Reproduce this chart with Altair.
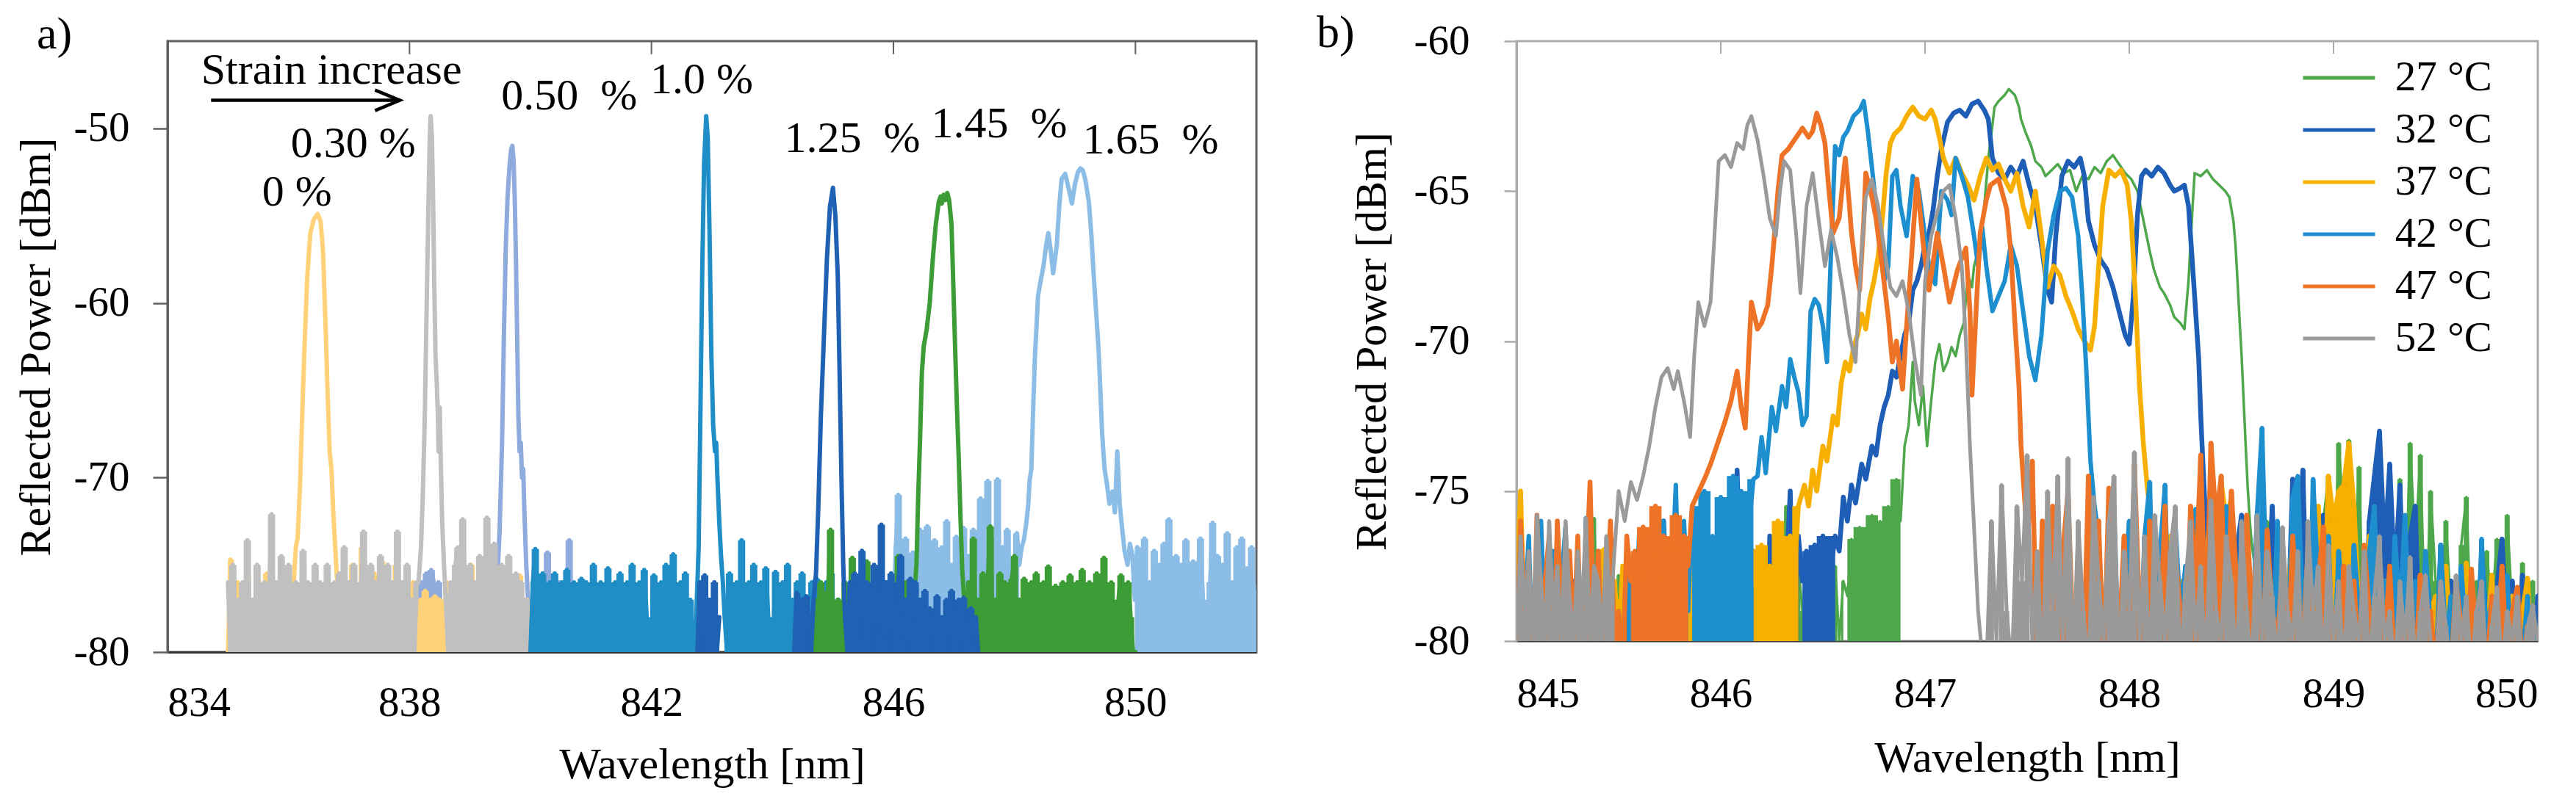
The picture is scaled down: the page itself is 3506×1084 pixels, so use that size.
import numpy as np
import pandas as pd
import altair as alt

alt.data_transformers.disable_max_rows()
FONT = "Liberation Serif"

# ===================== Panel a : strain series =====================
A_NAMES = ["0 %", "0.30 %", "0.50 %", "1.0 %", "1.25 %", "1.45 %", "1.65 %"]
A_COLORS = ["#FFD27A", "#C0C0C0", "#8FAADC", "#1F8DC6", "#1F61B3", "#3C9C35", "#8CBDE6"]

# 0 %
A0_N1 = (835.00, 836.04, [-80,-74.7,-78,-80,-76,-79,-77,-80,-75.5,-78,-80,-77,-79,-76,-80,-78,-75.5,-79,-77,-80,-76,-78,-80,-77,-79,-76.5,-78])
A0_PK = [(836.08,-76.5),(836.12,-74),(836.15,-73.5),(836.19,-70.5),(836.23,-66),(836.27,-62),(836.31,-58.5),(836.36,-56),(836.42,-55.2),(836.48,-54.9),(836.53,-55.3),(836.57,-57),(836.61,-61),(836.65,-65.5),(836.68,-68.5),(836.71,-69.5),(836.74,-72),(836.78,-74.5),(836.82,-77),(836.86,-79)]
A0_N2 = (836.90, 839.98, [-78,-80,-76,-79,-75,-80,-77,-79,-74,-78,
                          -80,-76,-78,-75.5,-80,-77,-74.8,-79,-76,-80,
                          -77,-79,-75,-80,-76,-78,-80,-77,-79,-76,
                          -80,-78,-77,-79,-76.5,-78,-77,-80,-76.8,-78,
                          -77,-80,-78,-76,-79,-80,-77,-78,-80,-76,
                          -79,-77,-80,-75,-78,-80,-76,-79,-77,-80,
                          -76,-78,-80,-75.5,-77,-79,-80,-76,-75.5,-78,
                          -80,-76,-79,-75.6,-78,-80,-77,-80])
# 0.30 %
A30_N1 = (835.00, 838.12, [-76,-80,-75,-79,-77,-80,-76,-78,-73.6,-79,
                           -77,-80,-75,-78,-80,-76,-79,-77,-72.1,-80,
                           -76,-79,-74.5,-80,-77,-75,-79,-80,-76,-78,
                           -80,-74.2,-78,-76,-80,-77,-75,-79,-76,-80,
                           -77,-75,-79,-80,-76,-78,-75.5,-80,-74,-78,
                           -76,-80,-75,-77,-79,-76,-73.1,-80,-77,-75,
                           -79,-76,-80,-74.5,-77,-80,-75,-78,-76,-79,
                           -73.1,-80,-76,-78,-75,-79,-77,-80,-76])
A30_PK = [(838.15,-76),(838.19,-74),(838.22,-71),(838.25,-67),(838.28,-61),(838.31,-55),(838.335,-50.5),(838.35,-49.3),(838.37,-50.5),(838.39,-54),(838.41,-59),(838.43,-63),(838.45,-64.5),(838.47,-66.5),(838.48,-68.5),(838.50,-66),(838.52,-69.5),(838.54,-72.5),(838.57,-75),(838.60,-77)]
A30_N2 = (838.64, 840.00, [-80,-76,-78,-75,-74,-79,-72.4,-77,-80,-75,
                           -78,-76,-80,-74.5,-77,-79,-72.3,-76,-80,-73.8,
                           -77,-80,-75,-79,-76,-74.5,-80,-77,-75.5,-79,
                           -76,-80,-77,-79,-80])
# 0.50 %
A50_N1 = (838.00, 839.40, [-80,-77,-79,-78,-80,-76,-78,-75.5,-77,-75.3,-76,-77.5,-76,-78,-80,-77,-79,-78,-80,-76,-79,-77,-80,-78,-76,-79,-80,-77,-78,-80,-76,-79,-77,-80,-78,-76])
A50_PK = [(839.45,-76),(839.49,-73),(839.53,-68),(839.56,-62),(839.59,-57),(839.62,-54),(839.65,-52.3),(839.68,-51.2),(839.70,-51),(839.72,-51.8),(839.74,-54),(839.76,-57.5),(839.78,-62),(839.80,-66.5),(839.82,-68.5),(839.84,-68),(839.86,-70),(839.88,-69.5),(839.90,-72),(839.93,-75),(839.96,-77)]
A50_N2 = (840.00, 840.88, [-80,-77,-79,-76,-80,-78,-77,-74.3,-79,-80,-77,-78,-76,-80,-79,-77,-73.6,-78,-80,-77,-79,-80,-78])
# 1.0 %
A100_N1 = (840.00, 842.72, [-80,-76,-74.1,-78,-80,-75.5,-77,-79,-76,-80,
                            -75.5,-78,-80,-76,-79,-75.3,-80,-77,-76,-79,
                            -80,-75.8,-78,-76,-80,-77,-75,-79,-80,-76,
                            -78,-80,-75.2,-77,-79,-76,-80,-75.5,-78,-80,
                            -76,-79,-75,-80,-77,-76,-80,-75.3,-78,-79,
                            -80,-75.6,-77,-80,-76,-79,-75,-80,-77,-74.4,
                            -79,-80,-76,-78,-75.5,-80,-77,-79,-80])
A100_PK = [(842.75,-77),(842.78,-74),(842.81,-66),(842.84,-58),(842.87,-52),(842.905,-49.3),(842.93,-50.5),(842.96,-56),(842.99,-63),(843.02,-67),(843.05,-68.5),(843.07,-68),(843.09,-70),(843.12,-72.5),(843.15,-74.5),(843.18,-76)]
A100_N2 = (843.21, 845.17, [-78,-80,-75.5,-77,-79,-76,-80,-73.6,-78,-80,
                            -76,-79,-75,-80,-77,-76,-80,-75.2,-78,-79,
                            -80,-75.4,-77,-80,-76,-79,-75,-80,-77,-78,
                            -76,-80,-75.5,-79,-77,-80,-76,-78,-75.8,-80,
                            -77,-79,-76,-80,-75.5,-78,-80,-77,-79,-80])
# 1.25 %
A125_S1 = (842.76, 843.12, [-80,-76,-79,-75.6,-80,-77,-79,-76,-80,-78])
A125_N1 = (844.36, 844.64, [-80,-76.6,-79,-77,-80,-76.8,-78,-80])
A125_PK = [(844.68,-77),(844.72,-75.5),(844.76,-71.5),(844.80,-66.5),(844.85,-62),(844.90,-57.5),(844.95,-54.5),(845.00,-53.4),(845.04,-55),(845.08,-58.5),(845.11,-64),(845.14,-70),(845.17,-75),(845.20,-78)]
A125_N2 = (845.24, 847.40, [-80,-76,-78,-75.5,-80,-77,-74.2,-79,-76,-80,
                            -77,-75,-80,-78,-72.7,-79,-76,-80,-75.5,-78,
                            -80,-76,-74.5,-79,-77,-80,-75.8,-78,-76,-80,
                            -77,-79,-76.5,-80,-77.5,-78,-80,-76.8,-79,-78,
                            -80,-77,-79,-76.5,-80,-78,-77,-80,-76.9,-79,
                            -80,-77.5,-79,-78,-80])
# 1.45 %
A145_N1 = (844.68, 846.32, [-80,-77,-79,-76,-80,-78,-76.5,-73,-79,-80,
                            -77,-80,-78,-76,-79,-77.5,-74.6,-80,-78,-79,
                            -80,-77,-74.8,-79,-80,-78,-76,-80,-77,-79,
                            -78,-80,-76.5,-79,-77,-74.5,-80,-78,-76,-79,
                            -80,-77])
A145_PK = [(846.34,-77),(846.38,-75),(846.41,-71),(846.44,-67.8),(846.47,-64),(846.50,-62.5),(846.55,-61.5),(846.60,-60),(846.65,-57.5),(846.70,-55.5),(846.75,-54.2),(846.78,-53.9),(846.80,-54.3),(846.83,-53.8),(846.86,-54.1),(846.89,-53.7),(846.92,-54.1),(846.96,-55.5),(846.99,-59),(847.02,-62.6),(847.05,-66),(847.08,-69),(847.11,-72.5),(847.14,-75.5),(847.17,-77)]
A145_N2 = (847.20, 850.00, [-80,-76,-78,-73.5,-80,-77,-79,-75.5,-80,-76,
                            -72.8,-79,-77,-80,-75.5,-78,-76,-80,-77,-75.8,
                            -74.5,-80,-77,-79,-75.8,-78,-80,-76,-79,-75.5,
                            -80,-77,-76,-79,-75.1,-80,-78,-76.2,-79,-80,
                            -76,-78,-80,-75.6,-77,-79,-76,-80,-75.3,-78,
                            -80,-76,-79,-77,-75.5,-80,-78,-74.6,-79,-80,
                            -76,-78,-80,-77,-75.6,-79,-80,-76,-78,-80,
                            -80])
# 1.65 %
A165_N1 = (846.00, 848.08, [-78,-74,-71,-77,-80,-73.5,-76,-79,-74.3,-77,
                            -80,-73,-76,-78,-72.8,-79,-75,-73.6,-80,-76,
                            -74,-78,-72.5,-80,-75,-77,-73.4,-79,-76,-72.9,
                            -78,-74.5,-80,-73,-76,-79,-71.2,-75,-78,-70.2,
                            -76,-73.5,-79,-70.1,-77,-74,-80,-73,-76,-74.8,
                            -78,-73.2,-75])
A165_PK = [(848.12,-74),(848.16,-73.5),(848.20,-72.5),(848.23,-71.5),(848.25,-70.2),(848.28,-69.5),(848.31,-66),(848.34,-63),(848.37,-61),(848.39,-59.6),(848.44,-58.6),(848.48,-57.9),(848.52,-56.8),(848.56,-56),(848.60,-57),(848.64,-58.3),(848.67,-57.5),(848.70,-56.7),(848.74,-54.5),(848.78,-52.9),(848.84,-52.6),(848.90,-53.5),(848.95,-54.3),(849.00,-53.2),(849.05,-52.5),(849.09,-52.3),(849.13,-52.4),(849.17,-52.9),(849.23,-54.2),(849.27,-56),(849.31,-58.4),(849.35,-60.5),(849.39,-62.6),(849.42,-65),(849.45,-67.5),(849.49,-69.5),(849.53,-70.4),(849.57,-71.5),(849.62,-70.8),(849.66,-72),(849.70,-68.5),(849.74,-71.5),(849.78,-72.9),(849.82,-74.2),(849.87,-75),(849.91,-73.8),(849.95,-74.5)]
A165_N2 = (849.99, 852.00, [-77,-74,-79,-75.5,-73.5,-78,-76,-80,-74.2,-77,
                            -75,-79,-73.8,-76,-72.4,-78,-80,-74.5,-77,-75,
                            -79,-73.6,-76,-78,-74.8,-80,-75.5,-73.5,-77,-79,
                            -80,-76,-72.6,-78,-74.5,-80,-75,-77,-73.2,-79,
                            -76,-80,-74,-77,-73.5,-79,-75.2,-78,-74,-76.5,
                            -78])

A_TICKS_X = [834, 838, 842, 846, 850]
A_TICKS_Y = [-80, -70, -60, -50]
A_TOP_TICKS = [838, 842, 846, 850]

ANN_TEXT = ["Strain increase", "0 %", "0.30 %", "0.50\u00a0 %", "1.0 %", "1.25\u00a0 %", "1.45\u00a0 %", "1.65\u00a0 %"]
ANN_X = [836.71, 836.14, 837.07, 840.64, 842.83, 845.32, 847.75, 850.25]
ANN_Y = [-47.43, -54.43, -51.66, -48.9, -48.0, -51.37, -50.49, -51.45]
ARROW_X = [834.72, 837.84, 837.43, 837.84, 837.43]
ARROW_Y = [-48.39, -48.39, -47.80, -48.39, -48.98]
ARROW_SEG = [0, 0, 1, 1, 1]

# ===================== Panel b : temperature series =====================
B_NAMES = ["27 °C", "32 °C", "37 °C", "42 °C", "47 °C", "52 °C"]
B_COLORS = ["#4EA74A", "#1F5EB6", "#F7B000", "#1D8FCF", "#EE7326", "#9A9A9A"]
B_WIDTHS = [3.5, 6.5, 6.5, 6.0, 6.5, 5.0]

# 27 C
B27_N1 = (845.00, 846.60, [-81,-78.5,-80,-77.6,-81,-79,-78,-81,-79.5,-78,
                           -81,-79,-77.8,-81,-80,-78.5,-81,-79,-77,-75.9,
                           -80,-81,-78,-79.5,-81,-77.8,-80,-81,-78.6,-79,
                           -81,-78,-80,-77.5,-81,-79,-78.4,-81,-80,-77.8,
                           -81,-79,-77.6,-80,-81,-78.5,-79,-81,-77.7,-80,
                           -76.2,-81,-78,-79.5,-81,-77.5,-80,-81,-78.2,-79,
                           -81,-77.8,-80,-78,-81,-79,-75.5,-80,-81,-77.5,
                           -79,-81,-78,-80,-77,-81,-78.5,-79,-77.5,-80,
                           -78])
B27_N2 = (846.62, 846.88, [-78.5,-76.6,-78,-76.2,-78.5,-77,-75.8,-78,-76,-78.5,-75.5,-77.5,-74.6,-76])
B27_PK = [(846.90,-73.5),(846.92,-72.8),(846.94,-70.7),(846.95,-72),(846.97,-72.8),(846.99,-71.5),(847.01,-73.5),(847.03,-72),(847.05,-70.7),(847.07,-70.1),(847.09,-71),(847.11,-70.7),(847.13,-70.2),(847.15,-70.5),(847.17,-69.8),(847.19,-69.4),(847.21,-67.8),(847.23,-68.2),(847.24,-67.5),(847.26,-67),(847.27,-66.7),(847.29,-65.5),(847.31,-63.9),(847.33,-62.8),(847.34,-62.2),(847.36,-62),(847.39,-61.8),(847.41,-61.6),(847.44,-61.8),(847.46,-62.2),(847.47,-62.6),(847.49,-63),(847.52,-63.5),(847.54,-64),(847.57,-64.2),(847.59,-64.5),(847.62,-64.3),(847.65,-64.1),(847.68,-64.4),(847.71,-64.3),(847.74,-65),(847.77,-64.5),(847.80,-64.6),(847.83,-64.2),(847.86,-64.4),(847.89,-64),(847.92,-63.8),(847.95,-64.1),(847.98,-64.4),(848.01,-64.6),(848.04,-65),(848.07,-66),(848.10,-67),(848.12,-67.6),(848.15,-68.2),(848.17,-68.4),(848.20,-68.8),(848.22,-69.2),(848.25,-69.4),(848.27,-69.6),(848.29,-68),(848.31,-65.5),(848.32,-64.4),(848.35,-64.5),(848.38,-64.3),(848.41,-64.6),(848.44,-64.8),(848.47,-65),(848.49,-65.2),(848.51,-66),(848.52,-66.8),(848.53,-68),(848.54,-69.3),(848.55,-70.5),(848.56,-72),(848.57,-73.5),(848.58,-74.9),(848.59,-76),(848.60,-76.8)]
B27_N3 = (848.625, 850.00, [-78,-81,-76,-79.5,-81,-77,-80,-78.5,-81,-76.5,
                            -80,-78,-81,-76,-74.5,-79,-73.4,-76,-73.3,-78,
                            -74.2,-81,-77,-79,-80,-76.5,-81,-77.8,-74.6,-79,
                            -73.4,-77,-73.8,-80,-75,-78,-81,-76,-79,-81,
                            -76.8,-75.2,-80,-78,-81,-77,-79,-76.6,-81,-75.8,
                            -79,-81,-77.4,-80,-78,-81])
# 32 C
B32_N1a = (845.00, 846.38, [-81,-78,-80,-77.8,-81,-79,-78.2,-81,-80,-78,
                            -81,-79,-77.6,-81,-78,-80,-81,-78.5,-79,-81,
                            -78,-80,-81,-77.5,-79,-81,-78,-80,-77.8,-81,
                            -79,-81,-77.5,-80,-78,-81,-76,-79,-81,-78,
                            -80,-77,-81,-78.5,-76.8,-80,-81,-77.5,-79,-81,
                            -77,-80,-78,-81,-74.3,-79,-76.8,-81,-77,-80,
                            -78,-81,-76.5,-79,-77,-81,-78,-75,-80,-76.5])
B32_N1b = (846.40, 846.56, [-78,-77,-78.5,-76.8,-78.5,-76.5,-78,-77.5,-76.5])
B32_PK = [(846.58,-77),(846.60,-75.2),(846.62,-76),(846.64,-74.8),(846.66,-75.4),(846.69,-74.1),(846.71,-74.6),(846.74,-73.5),(846.76,-73.8),(846.78,-72.8),(846.80,-72.2),(846.82,-71.8),(846.84,-71),(846.86,-71.2),(846.88,-70.5),(846.90,-69.8),(846.92,-69.4),(846.94,-68.3),(846.96,-68),(846.98,-67.5),(847.00,-66.8),(847.02,-66.4),(847.04,-65.6),(847.06,-64.5),(847.08,-63.6),(847.11,-62.7),(847.14,-62.4),(847.17,-62.3),(847.20,-62.5),(847.23,-62.1),(847.26,-62),(847.29,-62.3),(847.31,-62.6),(847.33,-63.9),(847.36,-64.4),(847.39,-64.6),(847.42,-64.2),(847.45,-64.5),(847.48,-64),(847.51,-64.8),(847.54,-65.5),(847.57,-66.8),(847.60,-68.3),(847.62,-68.7),(847.64,-66.5),(847.67,-64.5),(847.70,-64),(847.73,-64.2),(847.76,-63.9),(847.78,-64.5),(847.80,-66),(847.83,-66.8),(847.86,-67.3),(847.89,-67.6),(847.92,-68.2),(847.95,-69),(847.98,-69.8),(848.00,-70.1),(848.02,-68.5),(848.04,-65.8),(848.06,-64.5),(848.08,-64.3),(848.11,-64.5),(848.14,-64.2),(848.17,-64.4),(848.20,-64.8),(848.22,-65),(848.25,-64.9),(848.27,-64.8),(848.29,-65.5),(848.30,-66.5),(848.32,-68.5),(848.34,-70.6),(848.35,-72.5),(848.36,-74),(848.37,-75.4),(848.38,-76.5)]
B32_N2 = (848.40, 850.00, [-78,-81,-76.5,-79,-81,-77,-75.8,-80,-78,-81,
                           -76.8,-79,-75.5,-81,-77,-80,-74.6,-78,-74.3,-81,
                           -77,-80,-75.8,-81,-78,-76.5,-80,-81,-77.2,-79,
                           -81,-76,-74.5,-73,-77,-74.1,-78,-74.8,-80,-76.5,
                           -75.5,-81,-77.5,-79,-81,-76.8,-80,-78,-81,-77.6,
                           -80,-78.5,-81,-77,-79.5,-81,-78.2,-76.6,-80,-78,
                           -81,-77.8,-79.5,-81,-78.5])
# 37 C
B37_N1a = (845.00, 846.14, [-78,-75,-80,-77.5,-81,-78,-79,-81,-77,-80,
                            -78.5,-81,-77.8,-80,-79,-81,-78,-80,-77.6,-81,
                            -79,-77,-76.9,-81,-78,-80,-77.5,-81,-79,-78,
                            -81,-77.8,-80,-78.5,-81,-77,-79,-81,-78,-80,
                            -77.5,-81,-79,-77,-80,-78.5,-81,-77.2,-79,-81,
                            -78,-76,-80,-77.5,-75.6,-81,-76.5,-79])
B37_N1b = (846.16, 846.38, [-77,-78.5,-76.8,-78,-77.5,-78.5,-76,-78,-78.5,-76.5,-77.8,-75.5])
B37_PK = [(846.41,-74.8),(846.43,-75.5),(846.45,-74.3),(846.47,-75),(846.50,-73.5),(846.52,-74),(846.55,-72.5),(846.57,-72.8),(846.59,-71.4),(846.61,-70.7),(846.63,-71),(846.65,-70.2),(846.67,-69.8),(846.69,-69.1),(846.71,-69.6),(846.73,-68.6),(846.75,-68),(846.77,-67.2),(846.79,-66),(846.81,-64.4),(846.83,-63.4),(846.85,-63.1),(846.88,-62.9),(846.91,-62.5),(846.94,-62.2),(846.97,-62.5),(847.00,-62.6),(847.03,-62.3),(847.05,-62.6),(847.07,-63.2),(847.09,-63.9),(847.12,-64.4),(847.15,-63.9),(847.18,-64.4),(847.21,-64.8),(847.24,-65.3),(847.27,-64.5),(847.30,-63.9),(847.33,-64.3),(847.36,-64.1),(847.39,-64.6),(847.42,-65),(847.45,-64.4),(847.48,-65.5),(847.51,-66.2),(847.54,-65),(847.57,-66.5),(847.60,-68.2),(847.63,-67.5),(847.66,-67.8),(847.69,-68.5),(847.72,-69),(847.75,-69.6),(847.78,-70),(847.81,-70.3),(847.83,-69.5),(847.85,-67.5),(847.87,-65.5),(847.90,-64.3),(847.93,-64.5),(847.96,-64.3),(847.99,-64.8),(848.01,-66),(848.03,-68.5),(848.05,-71.5),(848.07,-73.5),(848.09,-75)]
B37_N2 = (848.10, 850.00, [-75.5,-81,-77,-79,-76.5,-81,-78,-80,-76,-79,
                           -81,-77.5,-75.5,-80,-74.7,-76,-75.2,-79,-81,-77,
                           -80,-78,-81,-76.8,-79,-77.5,-81,-78.5,-76.5,-80,
                           -78,-81,-77,-75.5,-80,-74.5,-76,-75,-74.8,-73.4,
                           -75.5,-79,-81,-76.5,-77.2,-80,-78,-81,-77.5,-79,
                           -81,-78,-80,-77.8,-81,-79,-78.5,-81,-77.5,-80,
                           -78.6,-81,-77.4,-79,-81,-78,-80,-77.8,-81,-79,
                           -80,-78.5,-81,-79,-77.9,-81,-80])
# 42 C
B42_N1a = (845.00, 845.84, [-80,-77,-79,-76.5,-81,-78,-76,-80,-79,-77,
                            -81,-78,-76.2,-80,-79,-77.5,-81,-75.9,-79,-80,
                            -77,-81,-78,-76.5,-80,-79,-81,-77,-79.5,-80,
                            -76.5,-81,-78,-79,-77,-81,-76,-80,-78,-74.8,
                            -80,-76,-79])
B42_N1b = (845.86, 846.16, [-75.5,-78,-77,-75,-78.5,-76.5,-78,-75.2,-78.5,-77,-74.5,-78,-75,-78.5,-76,-74.6])
B42_PK = [(846.18,-74.5),(846.20,-73.2),(846.22,-74.4),(846.25,-72.2),(846.27,-73),(846.30,-71.5),(846.32,-72.2),(846.34,-70.6),(846.36,-71.2),(846.38,-71.7),(846.40,-72.8),(846.42,-72.5),(846.44,-69),(846.46,-68.6),(846.48,-68.8),(846.50,-69.5),(846.52,-70.7),(846.54,-67),(846.56,-63.5),(846.58,-63.8),(846.60,-63.2),(846.62,-63),(846.65,-62.5),(846.68,-62.3),(846.70,-62),(846.72,-63),(846.74,-64.2),(846.76,-65.5),(846.78,-66.3),(846.80,-68),(846.82,-67.5),(846.84,-64.5),(846.86,-64.3),(846.88,-65.5),(846.91,-66.5),(846.94,-64.5),(846.97,-65),(846.99,-66),(847.02,-67.5),(847.05,-68.1),(847.08,-65),(847.11,-65.3),(847.13,-65.8),(847.15,-63.9),(847.18,-64.5),(847.21,-65.2),(847.24,-66.5),(847.26,-67.5),(847.28,-66.2),(847.30,-67.5),(847.33,-69),(847.36,-68.5),(847.39,-68),(847.42,-66.8),(847.45,-67.5),(847.48,-69),(847.51,-70.5),(847.54,-71.3),(847.57,-69.8),(847.60,-67),(847.63,-65.8),(847.66,-65),(847.69,-64.9),(847.72,-65.2),(847.75,-66.5),(847.77,-68.5),(847.79,-71),(847.81,-74),(847.83,-75.5),(847.85,-76.5)]
B42_N2 = (847.875, 850.00, [-80,-77,-75.5,-81,-78,-76,-79,-81,-76.5,-74.7,
                            -80,-77,-74.8,-81,-76,-79,-77.5,-81,-75.6,-78,
                            -80,-76.5,-81,-77,-75.5,-79,-81,-76,-78,-80,
                            -75.8,-72.9,-79,-81,-76,-78,-80,-75.2,-74.5,-79,
                            -81,-74.6,-78,-80,-76.5,-81,-77,-79,-81,-76.8,
                            -79,-81,-77,-75.5,-80,-78,-81,-76.5,-79,-75.8,
                            -80,-78,-81,-77,-79.5,-81,-76.8,-80,-78.5,-81,
                            -77.5,-80,-79,-81,-76.6,-80,-78.5,-81,-79,-77.8,
                            -81,-79,-80.5,-78.5,-81,-79.5])
# 47 C
B47_N1a = (845.00, 845.54, [-81,-76,-79,-77.5,-81,-75.8,-80,-78,-76.5,-81,
                            -76,-79,-81,-77,-80,-76.5,-81,-78,-74.7,-80,
                            -77,-81,-78.5,-76,-80,-79,-81,-76.5])
B47_N1b = (845.56, 845.84, [-78,-77,-78.5,-76.2,-78,-77,-75.5,-78.5,-76.5,-78,-77,-75.8,-78,-76.5,-77.5])
B47_PK = [(845.86,-75.5),(845.88,-75.2),(845.92,-74.6),(845.95,-74.1),(845.98,-73.5),(846.02,-72.7),(846.05,-72),(846.08,-71.0),(846.10,-72.2),(846.12,-72.9),(846.14,-70),(846.15,-68.7),(846.18,-69.6),(846.20,-69.4),(846.23,-68.8),(846.25,-67.5),(846.26,-66.7),(846.28,-65),(846.30,-63.8),(846.33,-63.6),(846.35,-63.4),(846.38,-63.1),(846.40,-62.9),(846.43,-63.2),(846.45,-63.0),(846.47,-62.4),(846.49,-62.8),(846.51,-63.4),(846.53,-65),(846.55,-66.4),(846.58,-65.9),(846.60,-64.5),(846.61,-63.9),(846.63,-65.5),(846.64,-66.4),(846.66,-67.5),(846.68,-68.3),(846.70,-66),(846.71,-64.4),(846.74,-65.2),(846.76,-65.9),(846.79,-67.5),(846.82,-69.2),(846.84,-70.7),(846.86,-70),(846.89,-71.6),(846.91,-69.5),(846.93,-67.6),(846.96,-64.6),(846.99,-66.7),(847.02,-68.3),(847.06,-66.4),(847.09,-67.5),(847.12,-68.7),(847.16,-67.6),(847.20,-66.9),(847.22,-69),(847.23,-71.8),(847.25,-69),(847.27,-66.4),(847.30,-65.3),(847.32,-64.8),(847.36,-64.6),(847.40,-65.6),(847.42,-67),(847.44,-69.4),(847.46,-71.5),(847.47,-73.5),(847.49,-75.5),(847.50,-77)]
B47_N2 = (847.525, 850.00, [-74,-81,-76,-79,-75.5,-81,-77,-75,-80,-78,
                            -81,-74.5,-79,-76,-81,-74.9,-78,-80,-76.5,-81,
                            -74.1,-79,-81,-76,-78,-80,-75.5,-81,-77,-79,
                            -81,-75.5,-78,-73.8,-80,-73.4,-76,-74.5,-81,-75,
                            -78,-81,-75.8,-79,-77,-81,-76.3,-79,-80,-77.5,
                            -81,-76.5,-79,-80,-77,-81,-78,-76.2,-80,-79,
                            -81,-77.5,-80,-78,-81,-76.8,-79,-81,-78.5,-80,
                            -77.5,-81,-79,-80,-78,-81,-77.8,-80,-79,-81,
                            -78.2,-80,-81,-78,-79.5,-81,-77.6,-80,-79,-81,
                            -78.5,-80,-77.5,-81,-79,-78.2,-81,-79.5,-80,-81])
# 52 C
B52_N1 = (845.00, 845.48, [-80,-76.5,-79,-77,-80,-75.8,-78,-80,-76,-79,-77.5,-80,-76,-78.5,-80,-77,-79,-75.9,-80,-77.5,-78,-80,-76.5,-79,-77])
B52_PK = [(845.50,-75),(845.53,-76),(845.56,-74.7),(845.59,-75.3),(845.62,-74.5),(845.65,-73.5),(845.68,-72.2),(845.71,-71.2),(845.74,-70.9),(845.77,-71.6),(845.79,-71),(845.82,-72),(845.85,-73.2),(845.87,-70.5),(845.89,-68.7),(845.92,-69.5),(845.95,-68.7),(845.97,-66.4),(845.99,-64),(846.02,-63.8),(846.05,-64.2),(846.08,-63.4),(846.11,-63.6),(846.13,-62.8),(846.15,-62.5),(846.18,-63.3),(846.21,-64.5),(846.24,-65.9),(846.27,-66.5),(846.29,-65),(846.31,-64),(846.34,-64.3),(846.37,-66.5),(846.39,-68.4),(846.42,-65.5),(846.45,-64.4),(846.48,-66),(846.51,-67.5),(846.54,-66.3),(846.57,-67.2),(846.60,-68.4),(846.63,-69.8),(846.66,-70.7),(846.69,-67),(846.71,-65.2),(846.74,-64.6),(846.77,-65.5),(846.80,-66.9),(846.83,-68.2),(846.86,-68.5),(846.89,-68),(846.92,-69),(846.95,-70.6),(846.98,-71.8),(847.00,-68),(847.03,-66.5),(847.06,-65.7),(847.09,-65),(847.12,-64.8),(847.15,-65.9),(847.18,-67.5),(847.20,-70),(847.22,-73.5),(847.24,-76.2),(847.26,-79),(847.28,-80.5)]
B52_N2 = (847.30, 850.00, [-81,-76,-80,-74.8,-79,-81,-75.5,-78,-73.8,-80,
                           -77,-81,-75,-79,-74.5,-80,-73.9,-81,-76,-79,
                           -81,-75.2,-78,-80,-76,-74.5,-81,-77,-79,-73.7,
                           -80,-76.5,-81,-75.8,-78,-80,-77,-75.5,-81,-78,
                           -76,-80,-77.5,-81,-75.3,-79,-80,-76.5,-78,-81,
                           -76,-79,-81,-75.8,-80,-77,-78.5,-81,-76.2,-79,
                           -80,-77,-81,-76,-79,-77.5,-81,-76.8,-80,-78,
                           -81,-77.5,-79,-80,-77,-81,-78.5,-76.5,-80,-79,
                           -81,-78,-80,-77.2,-81,-79,-77.8,-80,-81,-78,
                           -79.5,-81,-77.8,-80,-78.5,-81,-79,-78,-81,-79.5,
                           -78.2,-81,-79,-80,-78.5,-81,-79.5,-78.8,-80])

B_TICKS_X = [845, 846, 847, 848, 849, 850]
B_TICKS_Y = [-80, -75, -70, -65, -60]
B_TOP_TICKS = [846, 847, 848, 849]

# how a noise-floor part is drawn under its trace: 0 trace only,
# 1 dense band (upper edge = local max of 3 samples), 2 one bar per sample
NONE, BAND, BARS = 0, 1, 2


# ===================== helpers =====================
def expand(part):
    if isinstance(part, tuple):
        x0, x1, vals = part
        return list(zip(np.linspace(x0, x1, len(vals)), vals))
    return list(part)


def frames(segments, name):
    """segments: list of segments; each segment is a list of (part, fill_mode)."""
    lrows, arows = [], []
    for s, parts in enumerate(segments):
        i = 0
        for k, (part, mode) in enumerate(parts):
            pts = expand(part)
            for x, y in pts:
                lrows.append({"x": float(x), "y": float(y), "seg": s, "ord": i, "T": name})
                i += 1
            if mode:
                ys = [p[1] for p in pts]
                for j, (x, y) in enumerate(pts):
                    top = max(ys[max(0, j - 1): j + 2]) if mode == BAND else y
                    arows.append({"x": float(x), "top": float(top), "bot": -80.0,
                                  "seg": f"{s}_{k}"})
    return pd.DataFrame(lrows), pd.DataFrame(arows)


def make_y(field, domain, axis):
    return alt.Y(field, scale=alt.Scale(domain=domain, nice=False, zero=False), axis=axis, stack=None)


# ===================== panel a =====================
WA, HA = 1482, 832
XA = alt.X("x:Q", scale=alt.Scale(domain=[834, 852], nice=False, zero=False),
           axis=alt.Axis(values=A_TICKS_X, ticks=False, tickSize=0, labelPadding=41,
                         labelFont=FONT, labelFontSize=57, labelColor="black",
                         domainColor="#333333", domainWidth=3, grid=False,
                         title="Wavelength [nm]", titleFont=FONT, titleFontSize=60,
                         titleFontWeight="normal", titleColor="black",
                         titleX=WA / 2, titleY=153, titleBaseline="middle", titleAlign="center"))
AXIS_YA = alt.Axis(values=A_TICKS_Y, labelExpr="'' + datum.value", tickSize=20,
                   tickColor="#5F5F5F", tickWidth=2.5, labelPadding=32,
                   labelFont=FONT, labelFontSize=57, labelColor="black",
                   domainColor="#5F5F5F", domainWidth=3, grid=False,
                   title="Reflected Power [dBm]", titleFont=FONT, titleFontSize=60,
                   titleFontWeight="normal", titleColor="black", titleAngle=270,
                   titleX=-179, titleY=HA / 2, titleBaseline="middle", titleAlign="center")
YA = make_y("y:Q", [-80, -45], AXIS_YA)
YA_TOP = make_y("top:Q", [-80, -45], AXIS_YA)

a_curves = [
    ("1.65 %", [[(A165_N1, BAND), (A165_PK, NONE), (A165_N2, BAND)]]),
    ("0.50 %", [[(A50_N1, BAND), (A50_PK, NONE), (A50_N2, BAND)]]),
    ("0 %", [[(A0_N1, BAND), (A0_PK, NONE), (A0_N2, BAND)]]),
    ("0.30 %", [[(A30_N1, BAND), (A30_PK, NONE), (A30_N2, BAND)]]),
    ("1.0 %", [[(A100_N1, BAND), (A100_PK, NONE), (A100_N2, BAND)]]),
    ("1.45 %", [[(A145_N1, BAND), (A145_PK, NONE), (A145_N2, BAND)]]),
    ("1.25 %", [[(A125_S1, BAND)], [(A125_N1, BAND), (A125_PK, NONE), (A125_N2, BAND)]]),
]
a_layers = []
for name, segs in a_curves:
    col = A_COLORS[A_NAMES.index(name)]
    ldf, adf = frames(segs, name)
    if len(adf):
        a_layers.append(
            alt.Chart(adf).mark_area(color=col, fill=col, clip=True, opacity=1, interpolate="step")
            .encode(x=XA, y=YA_TOP, y2=alt.Y2("bot"), detail="seg:N"))
    a_layers.append(alt.Chart(ldf).mark_line(color=col, strokeWidth=6, clip=True,
                                             strokeJoin="round", strokeCap="round")
                    .encode(x=XA, y=YA, detail="seg:N", order="ord:Q"))

arrow_df = pd.DataFrame({"x": ARROW_X, "y": ARROW_Y, "seg": ARROW_SEG, "ord": list(range(len(ARROW_X)))})
a_layers.append(alt.Chart(arrow_df).mark_line(color="black", strokeWidth=4.5, strokeJoin="miter")
                .encode(x=XA, y=YA, detail="seg:N", order="ord:Q"))
ann_df = pd.DataFrame({"x": ANN_X, "y": ANN_Y, "t": ANN_TEXT})
a_layers.append(alt.Chart(ann_df).mark_text(font=FONT, fontSize=60, color="black", align="center",
                                            baseline="alphabetic")
                .encode(x=XA, y=YA, text="t:N"))
ttA = pd.DataFrame({"x": A_TOP_TICKS, "y": [-45.0] * len(A_TOP_TICKS), "y2": [-45.75] * len(A_TOP_TICKS)})
a_layers.append(alt.Chart(ttA).mark_rule(color="#5F5F5F", strokeWidth=2)
                .encode(x=XA, y=YA, y2=alt.Y2("y2")))
a_layers.append(alt.Chart(pd.DataFrame({"t": ["a)"]})).mark_text(font=FONT, fontSize=62, color="black",
                                                                  align="left", baseline="alphabetic")
                .encode(x=alt.value(-178), y=alt.value(10), text="t:N"))

panel_a = alt.layer(*a_layers).properties(width=WA, height=HA,
                                          view=alt.ViewBackground(stroke="#5F5F5F", strokeWidth=3))

# ===================== panel b =====================
WB, HB = 1390, 817
XB = alt.X("x:Q", scale=alt.Scale(domain=[845, 850], nice=False, zero=False),
           axis=alt.Axis(values=B_TICKS_X, ticks=False, tickSize=0, labelPadding=44,
                         labelFont=FONT, labelFontSize=57, labelColor="black",
                         domainColor="#404040", domainWidth=2, grid=False,
                         title="Wavelength [nm]", titleFont=FONT, titleFontSize=60,
                         titleFontWeight="normal", titleColor="black",
                         titleX=WB / 2, titleY=159, titleBaseline="middle", titleAlign="center"))
AXIS_YB = alt.Axis(values=B_TICKS_Y, labelExpr="'' + datum.value", tickSize=17,
                   tickColor="#ABABAB", tickWidth=2.5, labelPadding=47,
                   labelFont=FONT, labelFontSize=57, labelColor="black",
                   domainColor="#ABABAB", domainWidth=3, grid=False,
                   title="Reflected Power [dBm]", titleFont=FONT, titleFontSize=60,
                   titleFontWeight="normal", titleColor="black", titleAngle=270,
                   titleX=-197, titleY=HB / 2, titleBaseline="middle", titleAlign="center")
YB = make_y("y:Q", [-80, -60], AXIS_YB)
YB_TOP = make_y("top:Q", [-80, -60], AXIS_YB)
LEG = alt.Legend(orient="none", legendX=1091, legendY=21.5, title=None, padding=0,
                 labelFont=FONT, labelFontSize=57, labelColor="black", labelLimit=400,
                 symbolType="M-4,0H4", symbolSize=600, symbolStrokeWidth=5,
                 labelOffset=47.75, rowPadding=13)
CB = alt.Color("T:N", scale=alt.Scale(domain=B_NAMES, range=B_COLORS), legend=LEG)

b_curves = [
    ("27 °C", [[(B27_N1, BARS), (B27_N2, BAND), (B27_PK, NONE), (B27_N3, BARS)]]),
    ("32 °C", [[(B32_N1a, BARS), (B32_N1b, BAND), (B32_PK, NONE), (B32_N2, BARS)]]),
    ("37 °C", [[(B37_N1a, BARS), (B37_N1b, BAND), (B37_PK, NONE), (B37_N2, BARS)]]),
    ("42 °C", [[(B42_N1a, BARS), (B42_N1b, BAND), (B42_PK, NONE), (B42_N2, BARS)]]),
    ("47 °C", [[(B47_N1a, BARS), (B47_N1b, BAND), (B47_PK, NONE), (B47_N2, BARS)]]),
    ("52 °C", [[(B52_N1, BARS), (B52_PK, NONE), (B52_N2, BARS)]]),
]
b_layers = []
for name, segs in b_curves:
    idx = B_NAMES.index(name)
    ldf, adf = frames(segs, name)
    if len(adf):
        b_layers.append(
            alt.Chart(adf).mark_area(color=B_COLORS[idx], fill=B_COLORS[idx], clip=True, opacity=1,
                                     interpolate="step")
            .encode(x=XB, y=YB_TOP, y2=alt.Y2("bot"), detail="seg:N"))
    b_layers.append(
        alt.Chart(ldf).mark_line(strokeWidth=B_WIDTHS[idx], clip=True,
                                 strokeJoin="round", strokeCap="round")
        .encode(x=XB, y=YB, color=CB, detail="seg:N", order="ord:Q")
    )
ttB = pd.DataFrame({"x": B_TOP_TICKS, "y": [-60.0] * len(B_TOP_TICKS), "y2": [-60.42] * len(B_TOP_TICKS)})
b_layers.append(alt.Chart(ttB).mark_rule(color="#ABABAB", strokeWidth=2)
                .encode(x=XB, y=YB, y2=alt.Y2("y2")))
b_layers.append(alt.Chart(pd.DataFrame({"t": ["b)"]})).mark_text(font=FONT, fontSize=62, color="black",
                                                                  align="left", baseline="alphabetic")
                .encode(x=alt.value(-272), y=alt.value(8), text="t:N"))

panel_b = alt.layer(*b_layers).properties(width=WB, height=HB,
                                          view=alt.ViewBackground(stroke="#ABABAB", strokeWidth=3))

chart = (alt.hconcat(panel_a, panel_b, spacing=354, bounds="flush")
         .resolve_legend(color="independent")
         .properties(padding={"left": 9, "top": 4, "right": 10, "bottom": 10})
         .configure(font=FONT, background="white"))

chart.save("out.html", embed_options={"renderer": "svg", "actions": False})
